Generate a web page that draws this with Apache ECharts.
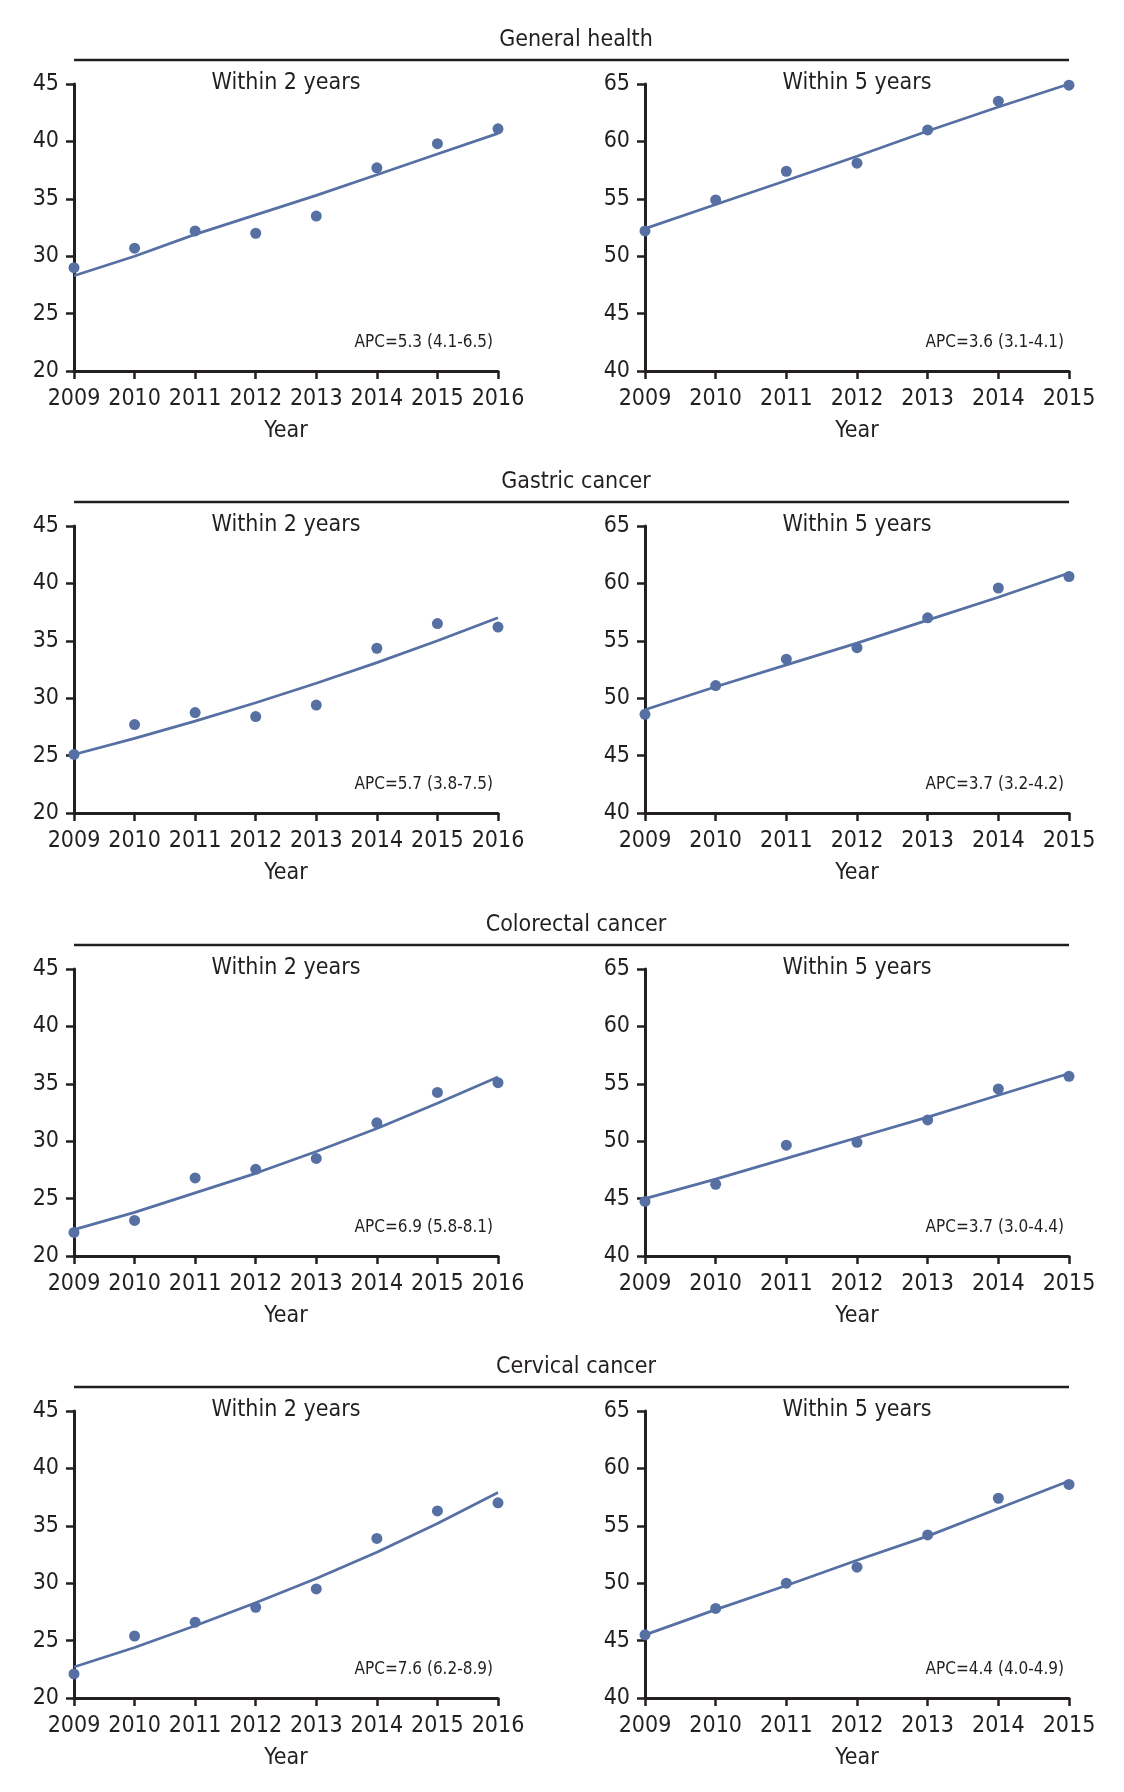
<!DOCTYPE html>
<html>
<head>
<meta charset="utf-8">
<script src="https://cdn.jsdelivr.net/npm/echarts@6/dist/echarts.min.js"></script>
<style>
html,body{margin:0;padding:0;background:#fff;}
#c{width:1124px;height:1792px;}
</style>
</head>
<body>
<div id="c"></div>
<script>
// ---- data ----
const years2 = ['2009','2010','2011','2012','2013','2014','2015','2016'];
const years5 = ['2009','2010','2011','2012','2013','2014','2015'];

const rowTitles = ['General health','Gastric cancer','Colorectal cancer','Cervical cancer'];
const subTitle2 = 'Within 2 years';
const subTitle5 = 'Within 5 years';

const yTicks2 = [20, 25, 30, 35, 40, 45];
const yTicks5 = [40, 45, 50, 55, 60, 65];

// General health
const genObs2 = [29.0, 30.7, 32.2, 32.0, 33.5, 37.7, 39.8, 41.1];
const genFit2 = [28.3, 30.0, 31.9, 33.6, 35.3, 37.1, 38.9, 40.7];
const genObs5 = [52.2, 54.9, 57.4, 58.1, 61.0, 63.5, 64.9];
const genFit5 = [52.4, 54.5, 56.6, 58.7, 60.9, 63.0, 65.0];
// Gastric cancer
const gasObs2 = [25.1, 27.7, 28.75, 28.4, 29.4, 34.35, 36.5, 36.2];
const gasFit2 = [25.1, 26.5, 28.0, 29.6, 31.3, 33.1, 35.0, 37.0];
const gasObs5 = [48.6, 51.1, 53.4, 54.4, 57.0, 59.6, 60.6];
const gasFit5 = [49.0, 51.0, 52.9, 54.8, 56.8, 58.8, 60.9];
// Colorectal cancer
const colObs2 = [22.05, 23.1, 26.8, 27.55, 28.5, 31.6, 34.25, 35.1];
const colFit2 = [22.3, 23.8, 25.5, 27.2, 29.1, 31.1, 33.3, 35.6];
const colObs5 = [44.75, 46.25, 49.65, 49.9, 51.85, 54.55, 55.65];
const colFit5 = [45.0, 46.7, 48.5, 50.3, 52.1, 54.0, 55.9];
// Cervical cancer
const cerObs2 = [22.1, 25.4, 26.6, 27.9, 29.5, 33.9, 36.3, 37.0];
const cerFit2 = [22.7, 24.4, 26.3, 28.3, 30.4, 32.7, 35.2, 37.9];
const cerObs5 = [45.5, 47.8, 50.0, 51.4, 54.2, 57.4, 58.6];
const cerFit5 = [45.5, 47.7, 49.8, 52.0, 54.1, 56.5, 58.9];

const apc2 = ['APC=5.3 (4.1-6.5)','APC=5.7 (3.8-7.5)','APC=6.9 (5.8-8.1)','APC=7.6 (6.2-8.9)'];
const apc5 = ['APC=3.6 (3.1-4.1)','APC=3.7 (3.2-4.2)','APC=3.7 (3.0-4.4)','APC=4.4 (4.0-4.9)'];

const obs2 = [genObs2, gasObs2, colObs2, cerObs2];
const fit2 = [genFit2, gasFit2, colFit2, cerFit2];
const obs5 = [genObs5, gasObs5, colObs5, cerObs5];
const fit5 = [genFit5, gasFit5, colFit5, cerFit5];

// ---- layout / style ----
const FONT = "'Liberation Sans Narrow','DejaVu Sans Condensed','Arial Narrow',sans-serif";
const INK = '#231f20';
const BLUE = '#5670a4';
const rowTop = [84, 526, 969, 1411];
const plotH = 287;
const leftX = [74, 498];
const rightX = [645, 1069];

const grids = [], xAxes = [], yAxes = [], series = [], graphics = [];

function addPanel(idx, x0, x1, top, cats, ticks, obs, fit, sub, apc) {
  grids.push({left: x0, width: x1 - x0, top: top, height: plotH});
  xAxes.push({
    type: 'category', gridIndex: idx, data: cats, boundaryGap: false,
    axisLine: {lineStyle: {color: INK, width: 3}},
    axisTick: {show: true, length: 8, interval: 0, lineStyle: {color: INK, width: 2.5}, alignWithLabel: true},
    axisLabel: {color: INK, fontFamily: FONT, fontSize: 23, margin: 17, interval: 0, hideOverlap: false},
    splitLine: {show: false},
    name: 'Year', nameLocation: 'middle', nameGap: 60,
    nameTextStyle: {color: INK, fontFamily: FONT, fontSize: 23, verticalAlign: 'middle'}
  });
  yAxes.push({
    type: 'value', gridIndex: idx, min: ticks[0], max: ticks[ticks.length - 1], interval: ticks[1] - ticks[0],
    axisLine: {show: true, lineStyle: {color: INK, width: 3}},
    axisTick: {show: true, length: 8, lineStyle: {color: INK, width: 2.5}},
    axisLabel: {color: INK, fontFamily: FONT, fontSize: 23, margin: 15},
    splitLine: {show: false}
  });
  series.push({
    type: 'line', xAxisIndex: idx, yAxisIndex: idx, data: fit,
    showSymbol: false, symbol: 'none', lineStyle: {color: BLUE, width: 2.7}, silent: true, z: 2
  });
  series.push({
    type: 'scatter', xAxisIndex: idx, yAxisIndex: idx, data: obs,
    symbolSize: 11, itemStyle: {color: BLUE, opacity: 1}, z: 3
  });
  graphics.push({
    type: 'text', x: (x0 + x1) / 2, y: top - 1,
    style: {text: sub, font: '23px ' + FONT, fill: INK, textAlign: 'center', textVerticalAlign: 'middle'}
  });
  graphics.push({
    type: 'text', x: x1 - 5, y: top + plotH - 28,
    style: {text: apc, font: '17px ' + FONT, fill: INK, textAlign: 'right', textVerticalAlign: 'middle'}
  });
}

for (let r = 0; r < 4; r++) {
  const top = rowTop[r];
  addPanel(r * 2, leftX[0], leftX[1], top, years2, yTicks2, obs2[r], fit2[r], subTitle2, apc2[r]);
  addPanel(r * 2 + 1, rightX[0], rightX[1], top, years5, yTicks5, obs5[r], fit5[r], subTitle5, apc5[r]);
  graphics.push({
    type: 'line', shape: {x1: 74, y1: top - 24, x2: 1069, y2: top - 24},
    style: {stroke: INK, lineWidth: 2.5}
  });
  graphics.push({
    type: 'text', x: 576, y: top - 44,
    style: {text: rowTitles[r], font: '23px ' + FONT, fill: INK, textAlign: 'center', textVerticalAlign: 'middle'}
  });
}

const chart = echarts.init(document.getElementById('c'), null, {renderer: 'canvas'});
chart.setOption({
  backgroundColor: '#ffffff',
  animation: false,
  grid: grids,
  xAxis: xAxes,
  yAxis: yAxes,
  series: series,
  graphic: graphics
});
</script>
</body>
</html>
